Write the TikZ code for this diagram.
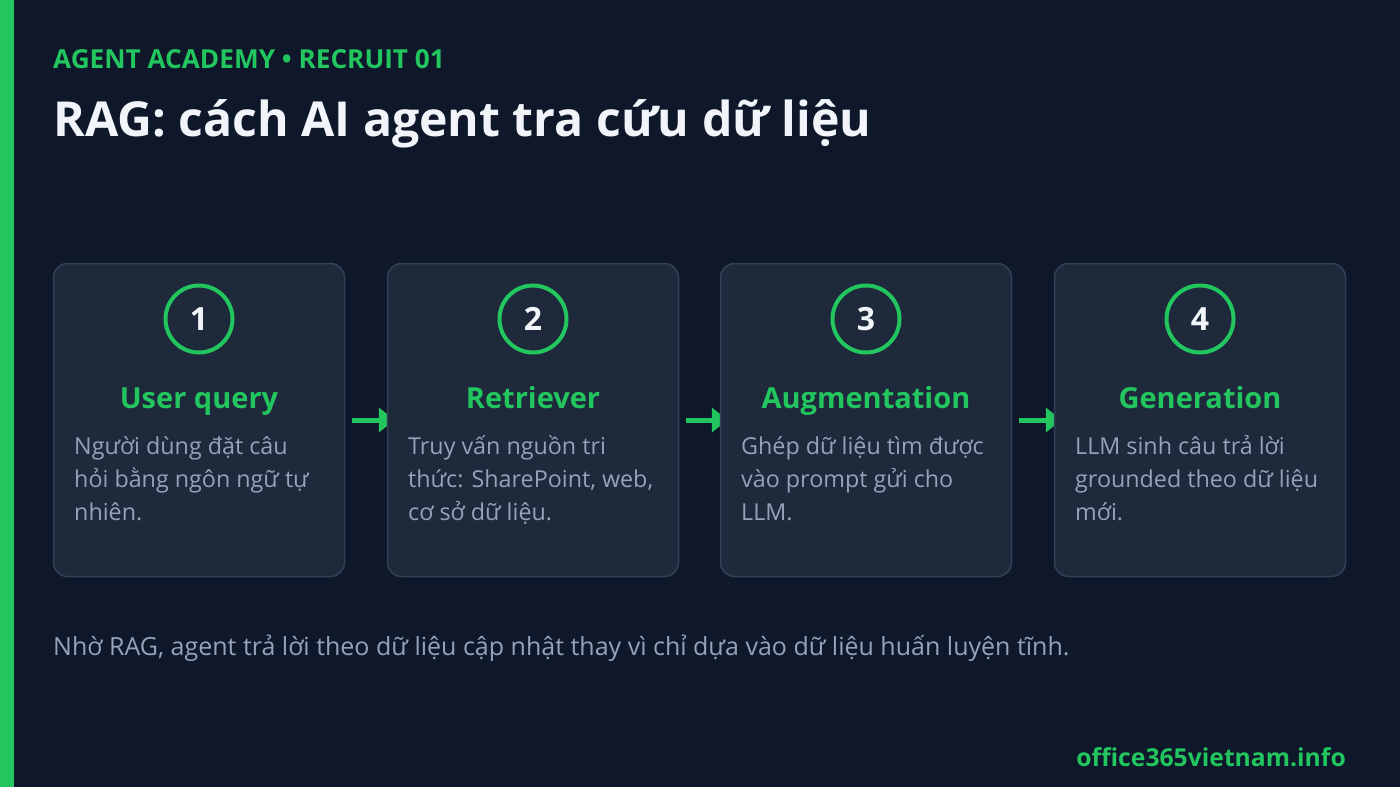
\documentclass[tikz,border=0pt]{standalone}
\usepackage{fontspec}
\setmainfont{Open Sans}
\usetikzlibrary{arrows.meta,backgrounds,calc}
\definecolor{bg}{HTML}{0F172A}
\definecolor{cardfill}{HTML}{1E293B}
\definecolor{cardline}{HTML}{334155}
\definecolor{accent}{HTML}{22C55E}
\definecolor{bodytext}{HTML}{94A3B8}
\definecolor{titletext}{HTML}{F1F5F9}
\tikzset{
  card/.style={rectangle, rounded corners=14pt, draw=cardline, line width=1.5pt, fill=cardfill,
    minimum width=291pt, minimum height=313pt, inner sep=0pt},
  numcircle/.style={circle, draw=accent, line width=4pt, minimum size=67pt, inner sep=0pt,
    text=titletext, font=\fontsize{32}{36}\selectfont\bfseries},
  cardhead/.style={anchor=base, inner sep=0pt, text=accent, font=\fontsize{29}{32}\selectfont\bfseries},
  cardbody/.style={anchor=base west, inner sep=0pt, align=left, text=bodytext,
    font=\fontsize{23.3}{33}\selectfont},
  flow/.style={draw=accent, line width=5pt, -{Triangle[length=16pt,width=24pt]}},
}
\begin{document}
\begin{tikzpicture}[x=1pt,y=-1pt]
\useasboundingbox (0,0) rectangle (1400,787);
\begin{pgfonlayer}{background}
\fill[bg] (0,0) rectangle (1400,787);
\end{pgfonlayer}
\fill[accent] (0,0) rectangle (14,787);

\node[anchor=base west, inner sep=0pt, text=accent, font=\fontsize{26.2}{28}\selectfont\bfseries] (tag) at (53,68) {AGENT ACADEMY • RECRUIT 01};
\node[anchor=base west, inner sep=0pt, text=titletext, font=\fontsize{48.2}{60}\selectfont\bfseries] (title) at (53,136) {RAG: cách AI agent tra cứu dữ liệu};

% cards
\foreach \i/\cx in {1/199, 2/533, 3/866, 4/1200} {
  \node[card] (c\i) at (\cx,420) {};
  \node[numcircle] (n\i) at (\cx,319) {\i};
}
\node[cardhead] (h1) at (199,408) {User query};
\node[cardhead] (h2) at (533,408) {Retriever};
\node[cardhead] (h3) at (866,408) {Augmentation};
\node[cardhead] (h4) at (1200,408) {Generation};

\node[cardbody] (b1) at (74,520) {Người dùng đặt câu\\hỏi bằng ngôn ngữ tự\\nhiên.};
\node[cardbody] (b2) at (408,520) {Truy vấn nguồn tri\\thức: SharePoint, web,\\cơ sở dữ liệu.};
\node[cardbody] (b3) at (741,520) {Ghép dữ liệu tìm được\\vào prompt gửi cho\\LLM.};
\node[cardbody] (b4) at (1075,520) {LLM sinh câu trả lời\\grounded theo dữ liệu\\mới.};

\begin{pgfonlayer}{background}
\draw[flow] ($(c1.east)+(7,0)$) -- ($(c2.west)+(8,0)$);
\draw[flow] ($(c2.east)+(7,0)$) -- ($(c3.west)+(8,0)$);
\draw[flow] ($(c3.east)+(7,0)$) -- ($(c4.west)+(8,0)$);
\end{pgfonlayer}

\node[anchor=base west, inner sep=0pt, text=bodytext, font=\fontsize{25}{28}\selectfont] (foot) at (53,655) {Nhờ RAG, agent trả lời theo dữ liệu cập nhật thay vì chỉ dựa vào dữ liệu huấn luyện tĩnh.};
\node[anchor=base east, inner sep=0pt, text=accent, font=\fontsize{24.7}{28}\selectfont\bfseries] (site) at (1346,766) {office365vietnam.info};
\end{tikzpicture}
\end{document}
